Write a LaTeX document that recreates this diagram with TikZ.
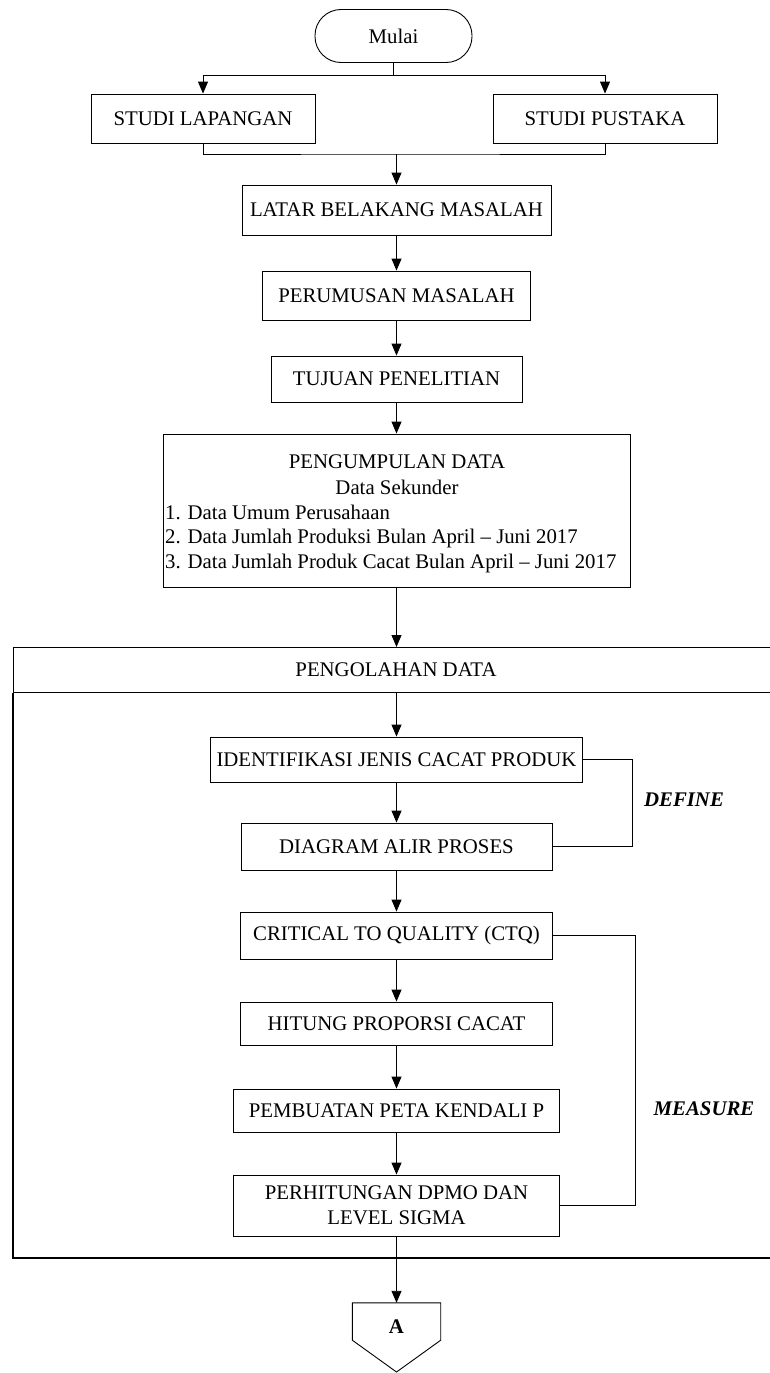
\documentclass[tikz,border=0pt]{standalone}
\usepackage{fontspec}
\setmainfont{Liberation Serif}
\usetikzlibrary{arrows.meta}
\begin{document}
\begin{tikzpicture}[x=1pt,y=-1pt,
  every node/.style={font=\fontsize{20.8}{24.5}\selectfont, inner sep=0pt},
  box/.style={draw, line width=0.9pt, rectangle},
  txt/.style={},
  conn/.style={line width=0.9pt},
  arr/.style={conn, -{Triangle[width=10pt,length=12pt]}},
  frameline/.style={line width=1.4pt},
  phase/.style={font=\fontsize{20.8}{24.5}\selectfont\bfseries\itshape}]
\useasboundingbox (0,0) rectangle (770,1373);
\clip (0,0) rectangle (770,1373);
% top part
\node[box, rounded corners=26pt, minimum width=157pt, minimum height=53pt] (mulai) at (393.5,36) {Mulai};
\node[box, minimum width=224pt, minimum height=49pt] (sl) at (203,118.5) {STUDI LAPANGAN};
\node[box, minimum width=224pt, minimum height=49pt] (sp) at (605,118.5) {STUDI PUSTAKA};
\node[box, minimum width=309pt, minimum height=50pt] (lbm) at (396.5,210) {LATAR BELAKANG MASALAH};
\node[box, minimum width=268pt, minimum height=49pt] (pm) at (396.5,295.5) {PERUMUSAN MASALAH};
\node[box, minimum width=251pt, minimum height=46pt] (tp) at (396.5,379) {TUJUAN PENELITIAN};
\node[box, minimum width=467pt, minimum height=153pt] (pd) at (396.5,510.5) {};
\node[txt] (pd1) at (397,462) {PENGUMPULAN DATA};
\node[txt] (pd2) at (397,487) {Data Sekunder};
\node[txt, anchor=west] (pd3) at (165,512) {1. Data Umum Perusahaan};
\node[txt, anchor=west] (pd4) at (165,538) {2. Data Jumlah Produksi Bulan April -- Juni 2017};
\node[txt, anchor=west] (pd5) at (165,563) {3. Data Jumlah Produk Cacat Bulan April -- Juni 2017};
% connectors top
\coordinate (b) at (393.5,75);
\draw[conn] (mulai.south) -- (b);
\draw[arr] (b) -| (sl.north);
\draw[arr] (b) -| (sp.north);
\coordinate (m) at (396.5,154);
\draw[conn] (sl.south) |- (m) -| (sp.south);
\draw[arr] (m) -- (lbm.north);
\draw[arr] (lbm) -- (pm);
\draw[arr] (pm) -- (tp);
\draw[arr] (tp) -- (pd);
% frame
\node[draw, frameline, minimum width=780pt, minimum height=45pt, anchor=north west] (hdr) at (13,647) {};
\node[txt] (hdrtxt) at (396,670) {PENGOLAHAN DATA};
\draw[frameline] (hdr.south west) -- (13,1258) -- (800,1258);
\draw[arr] (pd.south) -- (pd.south |- hdr.north);
% inner boxes
\node[box, minimum width=372pt, minimum height=45pt] (ijc) at (396.5,759.5) {IDENTIFIKASI JENIS CACAT PRODUK};
\node[box, minimum width=311pt, minimum height=47pt] (dap) at (396.5,846.5) {DIAGRAM ALIR PROSES};
\node[box, minimum width=312pt, minimum height=47pt] (ctq) at (396.5,935.5) {CRITICAL TO QUALITY (CTQ)};
\node[box, minimum width=312pt, minimum height=43pt] (hpc) at (396.5,1023.5) {HITUNG PROPORSI CACAT};
\node[box, minimum width=326pt, minimum height=43pt] (ppk) at (396.5,1110.5) {PEMBUATAN PETA KENDALI P};
\node[box, minimum width=326pt, minimum height=61pt, align=center] (pdl) at (396.5,1205.5) {PERHITUNGAN DPMO DAN\\LEVEL SIGMA};
\draw[arr] (ijc.north |- hdr.south) -- (ijc.north);
\draw[arr] (ijc) -- (dap);
\draw[arr] (dap) -- (ctq);
\draw[arr] (ctq) -- (hpc);
\draw[arr] (hpc) -- (ppk);
\draw[arr] (ppk) -- (pdl);
% brackets
\draw[conn] (ijc.east) -- ++(49,0) |- (dap.east);
\draw[conn] (ctq.east) -- ++(82,0) |- (pdl.east);
\node[phase] (def) at (684,800) {DEFINE};
\node[phase] (mea) at (704,1109) {MEASURE};
% off-page connector
\node[minimum width=88pt, minimum height=37pt] (A) at (396.5,1321.5) {};
\node[font=\fontsize{20.8}{24.5}\selectfont\bfseries] (Atxt) at (396.5,1327) {A};
\coordinate (Atip) at (396.5,1372);
\draw[conn] (A.north west) -- (A.north east) -- (A.south east) -- (Atip) -- (A.south west) -- cycle;
\draw[arr] (pdl.south) -- (A.north);
\end{tikzpicture}
\end{document}
